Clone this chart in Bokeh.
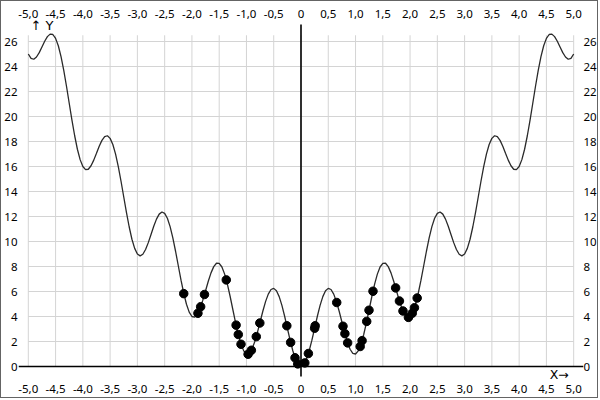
import numpy as np
from bokeh.plotting import figure
from bokeh.models import Range1d, LinearAxis, FixedTicker, Span, Label, CustomJSTickFormatter
from bokeh.embed import file_html
from bokeh.resources import INLINE

# ---- data ----
curve_x = np.round(np.linspace(-5.0, 5.0, 201), 2)
curve_y = [
    25.00, 24.65, 24.58, 24.76, 25.11, 25.56, 26.02, 26.39, 26.59, 26.56,
    26.25, 25.66, 24.79, 23.69, 22.42, 21.06, 19.71, 18.46, 17.38, 16.55,
    16.00, 15.75, 15.78, 16.06, 16.51, 17.06, 17.62, 18.09, 18.39, 18.46,
    18.25, 17.76, 16.99, 15.99, 14.82, 13.56, 12.31, 11.16, 10.18, 9.45,
    9.00, 8.85, 8.98, 9.36, 9.91, 10.56, 11.22, 11.79, 12.19, 12.36,
    12.25, 11.86, 11.19, 10.29, 9.22, 8.06, 6.91, 5.86, 4.98, 4.35,
    4.00, 3.95, 4.18, 4.66, 5.31, 6.06, 6.82, 7.49, 7.99, 8.26,
    8.25, 7.96, 7.39, 6.59, 5.62, 4.56, 3.51, 2.56, 1.78, 1.25,
    1.00, 1.05, 1.38, 1.96, 2.71, 3.56, 4.42, 5.19, 5.79, 6.16,
    6.25, 6.06, 5.59, 4.89, 4.02, 3.06, 2.11, 1.26, 0.58, 0.15,
    0.00,
    0.15, 0.58, 1.26, 2.11, 3.06, 4.02, 4.89, 5.59, 6.06, 6.25,
    6.16, 5.79, 5.19, 4.42, 3.56, 2.71, 1.96, 1.38, 1.05, 1.00,
    1.25, 1.78, 2.56, 3.51, 4.56, 5.62, 6.59, 7.39, 7.96, 8.25,
    8.26, 7.99, 7.49, 6.82, 6.06, 5.31, 4.66, 4.18, 3.95, 4.00,
    4.35, 4.98, 5.86, 6.91, 8.06, 9.22, 10.29, 11.19, 11.86, 12.25,
    12.36, 12.19, 11.79, 11.22, 10.56, 9.91, 9.36, 8.98, 8.85, 9.00,
    9.45, 10.18, 11.16, 12.31, 13.56, 14.82, 15.99, 16.99, 17.76, 18.25,
    18.46, 18.39, 18.09, 17.62, 17.06, 16.51, 16.06, 15.78, 15.75, 16.00,
    16.55, 17.38, 18.46, 19.71, 21.06, 22.42, 23.69, 24.79, 25.66, 26.25,
    26.56, 26.59, 26.39, 26.02, 25.56, 25.11, 24.76, 24.58, 24.65, 25.00,
]

dot_x = [-2.15, -1.77, -1.84, -1.89, -1.37, -1.19, -1.15, -1.10, -0.97, -0.91,
         -0.82, -0.755, -0.26, -0.19, -0.11, -0.06,
         0.07, 0.135, 0.26, 0.25, 0.655, 0.77, 0.805, 0.855, 1.12, 1.085,
         1.205, 1.247, 1.32, 1.735, 1.805, 1.87, 1.97, 2.04, 2.08, 2.13]
dot_y = [5.83, 5.76, 4.78, 4.26, 6.93, 3.31, 2.56, 1.78, 0.98, 1.30,
         2.39, 3.48, 3.26, 1.93, 0.70, 0.21,
         0.29, 1.04, 3.26, 3.06, 5.12, 3.22, 2.63, 1.89, 2.07, 1.60,
         3.61, 4.50, 6.02, 6.29, 5.24, 4.44, 3.93, 4.26, 4.70, 5.48]

x_ticks = [-5.0, -4.5, -4.0, -3.5, -3.0, -2.5, -2.0, -1.5, -1.0, -0.5, 0.0,
           0.5, 1.0, 1.5, 2.0, 2.5, 3.0, 3.5, 4.0, 4.5, 5.0]
x_tick_labels = ["-5,0", "-4,5", "-4,0", "-3,5", "-3,0", "-2,5", "-2,0", "-1,5", "-1,0", "-0,5", "0",
                 "0,5", "1,0", "1,5", "2,0", "2,5", "3,0", "3,5", "4,0", "4,5", "5,0"]
y_ticks = [0, 2, 4, 6, 8, 10, 12, 14, 16, 18, 20, 22, 24, 26]
y_tick_labels = ["0", "2", "4", "6", "8", "10", "12", "14", "16", "18", "20", "22", "24", "26"]

grid_top = 26.5            # grid lines end here
y_axis_extent = (-0.8, 27.36)   # vertical zero line extends slightly past the grid

FONT = "Noto Sans"

p = figure(width=598, height=398, output_backend="svg", toolbar_location=None,
           x_range=Range1d(-5.18, 5.18), y_range=Range1d(-1.28, 27.84),
           min_border_left=15, min_border_right=15, min_border_top=17, min_border_bottom=17)
p.outline_line_color = None
p.xgrid.visible = False
p.ygrid.visible = False
p.background_fill_color = "white"
p.border_fill_color = "white"
p.styles = {"border": "1px solid #646464"}

# grid lines
gx = list(x_ticks)
p.segment(x0=gx, y0=[0] * len(gx), x1=gx, y1=[grid_top] * len(gx),
          line_color="#d4d4d4", line_width=1)
gy = [t for t in y_ticks if t > 0]
p.segment(x0=[x_ticks[0]] * len(gy), y0=gy, x1=[x_ticks[-1]] * len(gy), y1=gy,
          line_color="#d4d4d4", line_width=1)

# zero axes
p.add_layout(Span(location=0, dimension="width", line_color="black", line_width=1.6))
p.segment(x0=[0], y0=[y_axis_extent[0]], x1=[0], y1=[y_axis_extent[1]],
          line_color="black", line_width=1.6)

# curve and points
p.line(curve_x, curve_y, line_color="#2a2a2a", line_width=1.3)
p.scatter(dot_x, dot_y, marker="circle", size=8.5, fill_color="black", line_color="black")

xfmt = CustomJSTickFormatter(args=dict(tvals=x_ticks, tlabels=x_tick_labels), code="""
const i = tvals.findIndex(t => Math.abs(t - tick) < 1e-9);
return i >= 0 ? tlabels[i] : '';
""")
yfmt = CustomJSTickFormatter(args=dict(tvals=y_ticks, tlabels=y_tick_labels), code="""
const i = tvals.findIndex(t => Math.abs(t - tick) < 1e-9);
return i >= 0 ? tlabels[i] : '';
""")

def style_axis(ax, standoff):
    ax.axis_line_color = None
    ax.major_tick_line_color = None
    ax.minor_tick_line_color = None
    ax.major_tick_in = 0
    ax.major_tick_out = 0
    ax.minor_tick_in = 0
    ax.minor_tick_out = 0
    ax.major_label_text_font = FONT
    ax.major_label_text_font_size = "11.5px"
    ax.major_label_text_color = "black"
    ax.major_label_standoff = standoff

xb = p.xaxis[0]
xb.ticker = FixedTicker(ticks=x_ticks)
xb.formatter = xfmt
style_axis(xb, 2)
xt = LinearAxis(ticker=FixedTicker(ticks=x_ticks), formatter=xfmt)
style_axis(xt, 1)
p.add_layout(xt, "above")

yl = p.yaxis[0]
yl.ticker = FixedTicker(ticks=y_ticks)
yl.formatter = yfmt
style_axis(yl, 1)
yr = LinearAxis(ticker=FixedTicker(ticks=y_ticks), formatter=yfmt)
style_axis(yr, 0)
p.add_layout(yr, "right")

p.add_layout(Label(x=-4.96, y=27.32, text="↑ Y", text_baseline="middle", text_align="left",
                   text_font="DejaVu Sans", text_font_size="13px", text_color="black"))
p.add_layout(Label(x=4.56, y=-0.64, text="X→", text_baseline="middle", text_align="left",
                   text_font="DejaVu Sans", text_font_size="12.5px", text_color="black"))

open("out.html", "w").write(file_html(p, INLINE))
